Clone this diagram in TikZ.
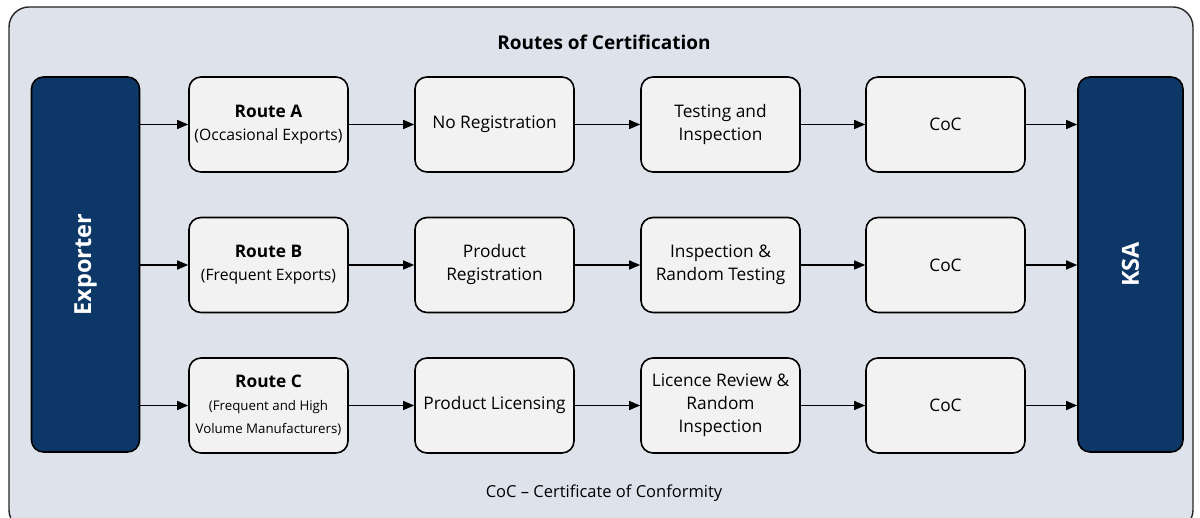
\documentclass[tikz,border=0pt]{standalone}
\usepackage{fontspec}
\setmainfont{Open Sans}
\usetikzlibrary{arrows.meta}
\definecolor{bgc}{HTML}{DEE2EB}
\definecolor{boxc}{HTML}{F2F2F2}
\definecolor{navy}{HTML}{0C3766}
\begin{document}
\begin{tikzpicture}[x=1pt,y=-1pt,
  stepbox/.style={draw=black, line width=1.6pt, fill=boxc, rounded corners=12pt,
    minimum width=159pt, minimum height=95pt, align=center, inner sep=1pt,
    font=\fontsize{17.3}{23}\selectfont},
  endbox/.style={draw=black, line width=1.6pt, fill=navy, rounded corners=12pt,
    minimum width=108pt, minimum height=375pt},
  endlabel/.style={rotate=90, text=white, font=\bfseries\fontsize{23.5}{26}\selectfont},
  arr/.style={-{Triangle[length=11pt,width=9pt]}, line width=1.4pt}]
\useasboundingbox (0,0) rectangle (1200,518);
\draw[draw=black!85, line width=1.4pt, fill=bgc, rounded corners=20pt] (9,7) rectangle (1193,530);
\node[font=\bfseries\fontsize{19}{22}\selectfont] (title) at (604,42) {Routes of Certification};
\node[font=\fontsize{16.5}{20}\selectfont] (foot) at (604,493) {CoC – Certificate of Conformity};

\node[endbox] (ex) at (85.5,264.5) {};
\node[endlabel] (exl) at (ex.center) {Exporter};
\node[endbox, minimum width=105pt] (ksa) at (1130.5,264.5) {};
\node[endlabel] (ksal) at (ksa.center) {KSA};

% row A
\node[stepbox] (a1) at (268.5,124.5) {{\bfseries Route A}\\{\fontsize{15.7}{23}\selectfont (Occasional Exports)}};
\node[stepbox] (a2) at (494.5,124.5) {No Registration};
\node[stepbox] (a3) at (720.5,124.5) {Testing and\\Inspection};
\node[stepbox] (a4) at (945.5,124.5) {CoC};
% row B
\node[stepbox] (b1) at (268.5,265) {{\bfseries Route B}\\{\fontsize{15.7}{23}\selectfont (Frequent Exports)}};
\node[stepbox] (b2) at (494.5,265) {Product\\Registration};
\node[stepbox] (b3) at (720.5,265) {Inspection \&\\Random Testing};
\node[stepbox] (b4) at (945.5,265) {CoC};
% row C
\node[stepbox] (c1) at (268.5,405.5) {{\bfseries Route C}\\{\fontsize{13.3}{20}\selectfont (Frequent and High}\\{\fontsize{13.3}{20}\selectfont Volume Manufacturers)}};
\node[stepbox] (c2) at (494.5,405.5) {Product Licensing};
\node[stepbox] (c3) at (720.5,405.5) {Licence Review \&\\Random\\Inspection};
\node[stepbox] (c4) at (945.5,405.5) {CoC};

\foreach \r in {a,b,c}{
  \draw[arr] (ex.east |- \r1) -- (\r1);
  \draw[arr] (\r1) -- (\r2);
  \draw[arr] (\r2) -- (\r3);
  \draw[arr] (\r3) -- (\r4);
  \draw[arr] (\r4) -- (ksa.west |- \r4);
}
\end{tikzpicture}
\end{document}
